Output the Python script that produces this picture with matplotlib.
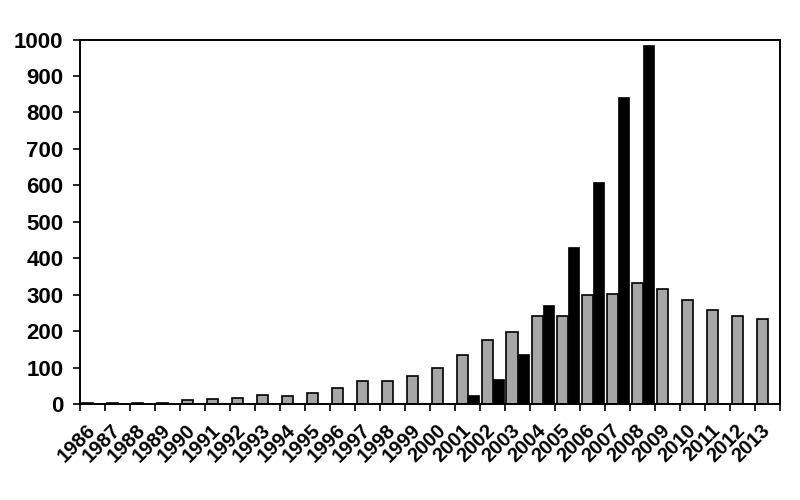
import matplotlib.pyplot as plt
import numpy as np

plt.rcParams["font.family"] = ["Liberation Sans", "DejaVu Sans"]
plt.rcParams["font.weight"] = "bold"

years = list(range(1986, 2014))
gray_vals = [2, 2, 2, 2, 10, 14, 17, 25, 21, 29, 44, 62, 62, 77,
             98, 135, 175, 197, 241, 241, 300, 303, 332, 315, 285, 259, 241, 234]
black_vals = [0, 0, 0, 0, 0, 0, 0, 0, 0, 0, 0, 0, 0, 0,
              0, 25, 69, 136, 271, 432, 608, 843, 985, 0, 0, 0, 0, 0]

fig = plt.figure(figsize=(8, 5), dpi=100)
ax = fig.add_axes([0.1, 0.192, 0.875, 0.729])

x = np.arange(len(years))
w = 0.45
ax.bar(x - w / 2 + 0.01, gray_vals, width=w, color="#a6a6a6", edgecolor="black", linewidth=1.2)
ax.bar(x + w / 2 + 0.01, black_vals, width=w, color="black", edgecolor="black", linewidth=0.5)

ax.set_xlim(-0.5, len(years) - 0.5)
ax.set_ylim(0, 1000)
ax.set_yticks(range(0, 1001, 100))
ax.tick_params(axis="y", direction="out", length=5, width=1.2, labelsize=16, pad=7)

ax.set_xticks(x)
ax.set_xticklabels(years, rotation=45, ha="right", va="center", rotation_mode="anchor", fontsize=14.5)
ax.tick_params(axis="x", which="major", length=0, pad=17)
ax.set_xticks(np.arange(-0.5, len(years)), minor=True)
ax.tick_params(axis="x", which="minor", direction="out", length=5, width=1.2)

for s in ax.spines.values():
    s.set_linewidth(1.4)

plt.savefig("out.png")
